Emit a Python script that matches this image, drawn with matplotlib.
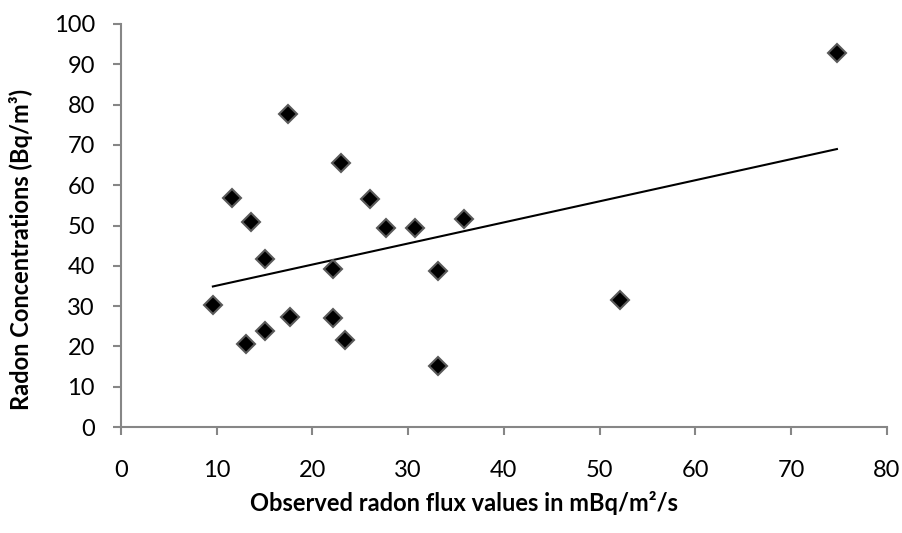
import numpy as np
import matplotlib.pyplot as plt

# observed flux (mBq/m2/s) and radon concentration (Bq/m3)
flux = [9.6, 13.1, 15.0, 17.7, 22.1, 23.4, 33.1, 33.1, 22.2, 15.0,
        11.6, 13.6, 17.4, 23.0, 26.0, 27.7, 30.7, 35.8, 52.1, 74.8]
conc = [30.3, 20.5, 23.8, 27.2, 27.0, 21.5, 15.2, 38.6, 39.1, 41.8,
        56.8, 50.9, 77.6, 65.6, 56.5, 49.4, 49.5, 51.7, 31.5, 92.9]

xticks = np.arange(0, 81, 10)
yticks = np.arange(0, 101, 10)

plt.rcParams['font.family'] = ['Lato', 'DejaVu Sans']
fig = plt.figure(figsize=(9.03, 5.33), dpi=100)
ax = fig.add_axes([121/903, 1-427/533, (886.7-121)/903, (427-24)/533])

ax.plot(flux, conc, linestyle='none', marker='D', markersize=9.5,
        markerfacecolor='black', markeredgecolor='#5a5a5a', markeredgewidth=1.5,
        zorder=3)

# linear trend line over the data range
k, b = np.polyfit(flux, conc, 1)
xs = np.array([min(flux), max(flux)])
ax.plot(xs, k*xs + b, color='black', linewidth=1.5, zorder=2)

ax.set_xlim(0, 80)
ax.set_ylim(0, 100)
ax.set_xticks(xticks)
ax.set_yticks(yticks)
for s in ['top', 'right']:
    ax.spines[s].set_visible(False)
for s in ['left', 'bottom']:
    ax.spines[s].set_color('#868686')
    ax.spines[s].set_linewidth(1.5)
ax.tick_params(direction='out', length=5.8, width=1.5, color='#868686',
               labelsize=17)
ax.tick_params(axis='x', pad=18)
ax.tick_params(axis='y', pad=13)

ax.set_xlabel('Observed radon flux values in mBq/m²/s', fontsize=17,
              fontweight='bold', labelpad=7)
ax.set_ylabel('Radon Concentrations (Bq/m³)', fontsize=17,
              fontweight='bold', labelpad=15)
ax.xaxis.label.set_x(0.448)
ax.yaxis.label.set_y(0.44)

fig.savefig('out.png', dpi=100)
